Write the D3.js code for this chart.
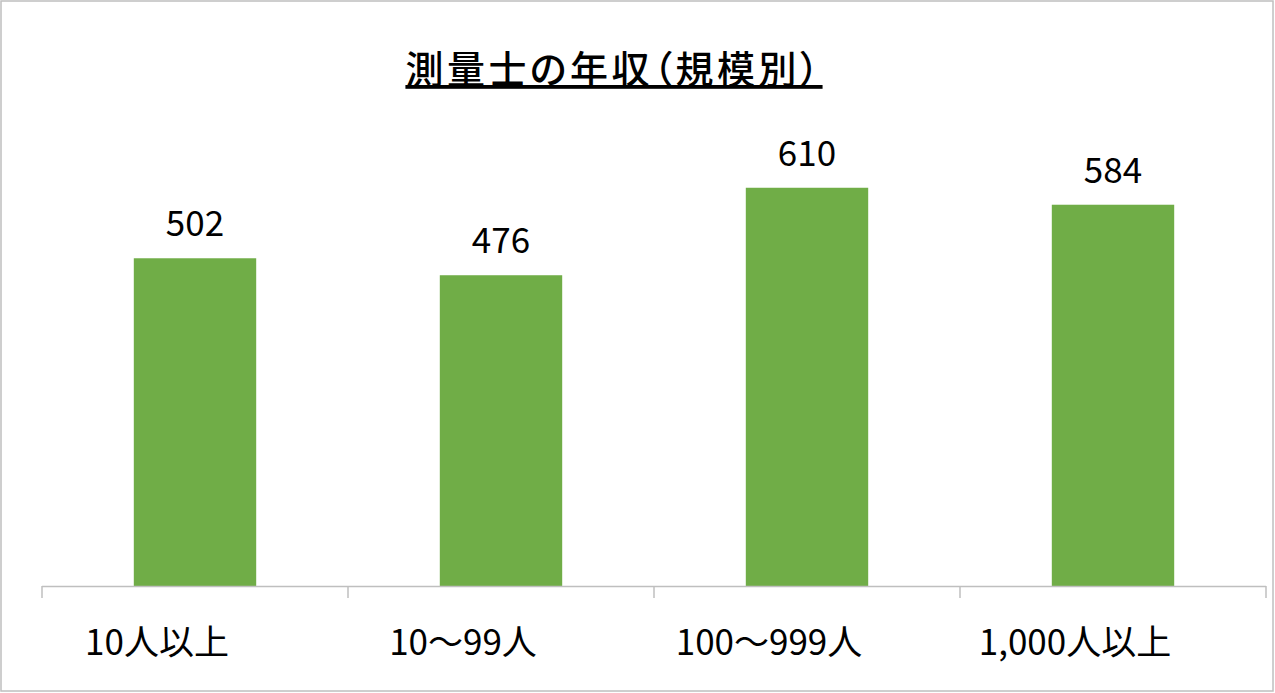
<!DOCTYPE html>
<html>
<head>
<meta charset="utf-8">
<script src="https://cdn.jsdelivr.net/npm/d3@7"></script>
<style>
  html, body { margin: 0; padding: 0; background: #fff; }
  text { font-family: "Noto Sans CJK JP", "Noto Sans", sans-serif; fill: #000; }
  .title { font-feature-settings: "palt"; }
</style>
</head>
<body>
<div id="chart"></div>
<script>
var categories = ['10人以上', '10〜99人', '100〜999人', '1,000人以上'];
var values = [502, 476, 610, 584];
var yMax = 700;

var width = 1275, height = 693;
var plotLeft = 42, plotRight = 1266, baseline = 586, plotTop = 129;

var svg = d3.select('#chart').append('svg')
  .attr('width', width)
  .attr('height', height);

svg.append('rect')
  .attr('x', 1).attr('y', 1)
  .attr('width', width - 3).attr('height', height - 3)
  .attr('fill', '#fff')
  .attr('stroke', '#bfbfbf')
  .attr('stroke-width', 1.5);

// title
svg.append('text')
  .attr('class', 'title')
  .attr('x', 614)
  .attr('y', 83)
  .attr('text-anchor', 'middle')
  .attr('font-size', 38)
  .attr('font-weight', 500)
  .attr('letter-spacing', 3.5)
  .style('text-decoration', 'underline')
  .text('測量士の年収（規模別）');

var x = d3.scaleBand()
  .domain(categories)
  .range([plotLeft, plotRight])
  .paddingInner(0.6)
  .paddingOuter(0.3);

var y = d3.scaleLinear()
  .domain([0, yMax])
  .range([baseline, plotTop]);

var data = categories.map(function(c, i){ return {cat: c, value: values[i]}; });

svg.selectAll('.bar')
  .data(data)
  .enter().append('rect')
  .attr('class', 'bar')
  .attr('x', function(d){ return x(d.cat); })
  .attr('y', function(d){ return y(d.value); })
  .attr('width', x.bandwidth())
  .attr('height', function(d){ return baseline - y(d.value); })
  .attr('fill', '#70ad47');

svg.selectAll('.val')
  .data(data)
  .enter().append('text')
  .attr('class', 'val')
  .attr('x', function(d){ return x(d.cat) + x.bandwidth()/2; })
  .attr('y', function(d){ return y(d.value) - 22; })
  .attr('text-anchor', 'middle')
  .attr('font-size', 35)
  .text(function(d){ return d.value; });

// category axis: line with ticks between categories
var step = (plotRight - plotLeft) / categories.length;
var axis = svg.append('g');
axis.append('line')
  .attr('x1', plotLeft).attr('x2', plotRight)
  .attr('y1', baseline + 0.5).attr('y2', baseline + 0.5)
  .attr('stroke', '#bfbfbf')
  .attr('stroke-width', 1.5);

d3.range(categories.length + 1).forEach(function(i){
  axis.append('line')
    .attr('x1', plotLeft + i*step).attr('x2', plotLeft + i*step)
    .attr('y1', baseline).attr('y2', baseline + 12)
    .attr('stroke', '#bfbfbf')
    .attr('stroke-width', 1.5);
});

axis.selectAll('.cat')
  .data(categories)
  .enter().append('text')
  .attr('class', 'cat')
  .attr('x', function(d){ return x(d) + x.bandwidth()/2 - 38; })
  .attr('y', 655)
  .attr('text-anchor', 'middle')
  .attr('font-size', 35)
  .text(function(d){ return d; });
</script>
</body>
</html>
